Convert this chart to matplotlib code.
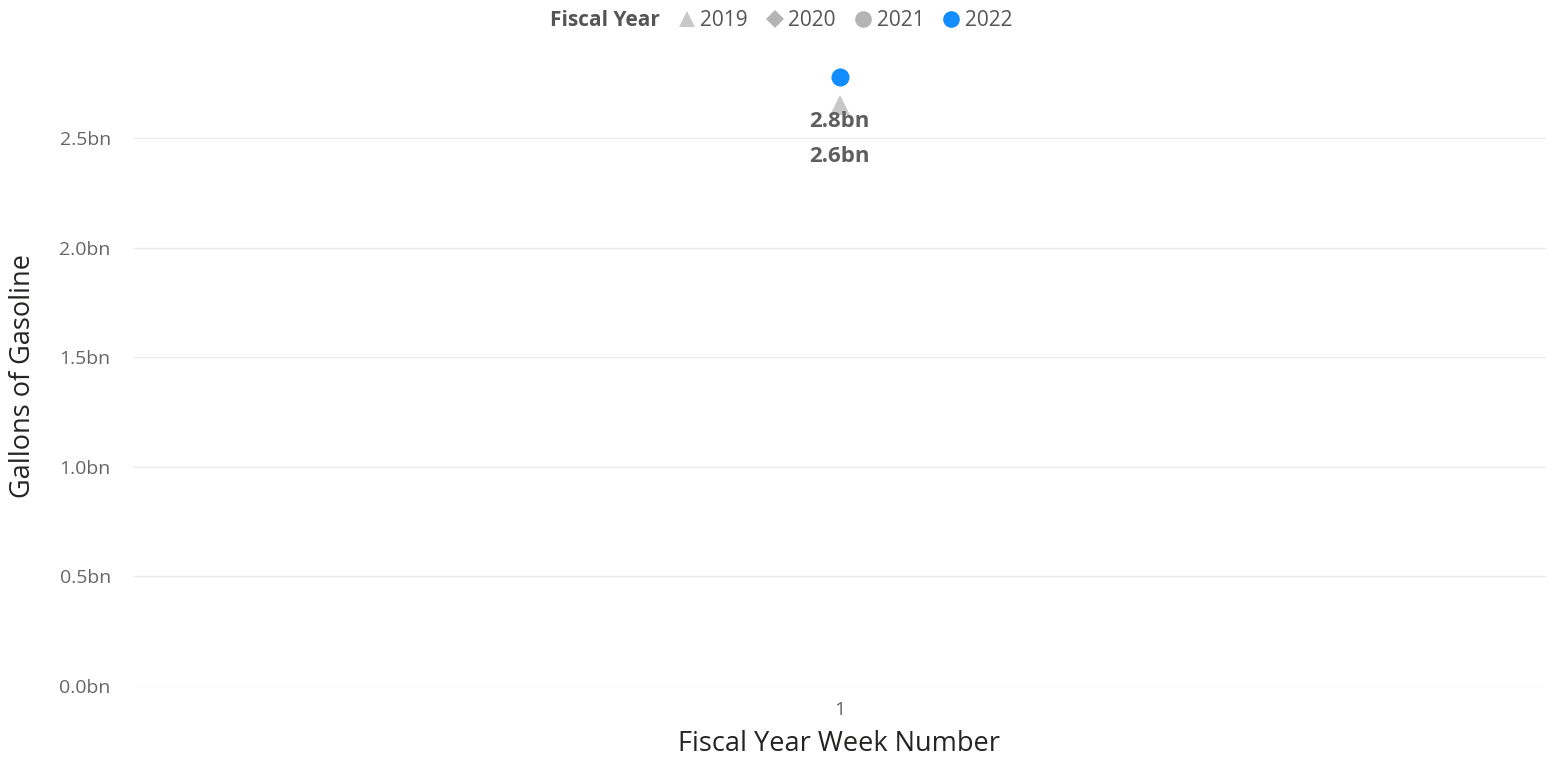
import numpy as np
import matplotlib.pyplot as plt
from matplotlib.lines import Line2D

plt.rcParams['font.family'] = ['Open Sans', 'DejaVu Sans']

# data
weeks = ['1']
years = ['2019', '2020', '2021', '2022']
values = {
    '2019': [2.65],
    '2020': [],
    '2021': [],
    '2022': [2.78],
}
markers = {'2019': '^', '2020': 'D', '2021': 'o', '2022': 'o'}
colors = {'2019': '#c8c8c8', '2020': '#b4b4b4', '2021': '#b4b4b4', '2022': '#118dff'}
msizes = {'2019': 15, '2020': 10, '2021': 13, '2022': 13}
yticks = [0.0, 0.5, 1.0, 1.5, 2.0, 2.5]

fig = plt.figure(figsize=(15.54, 7.8), dpi=100)
ax = fig.add_axes([133/1554, 1-686/780, (1546-133)/1554, (686-65)/780])

x = np.arange(len(weeks))
for y in years:
    v = values[y]
    if len(v) == 0:
        continue
    ax.plot(x[:len(v)], v, linestyle='none', marker=markers[y], color=colors[y],
            markersize=msizes[y], markeredgewidth=0, zorder=3 if y == '2022' else 2)

# data labels (2022 first, then 2019 below it)
lab_y = [2.574, 2.414]
for yr, ly in zip(['2022', '2019'], lab_y):
    ax.text(0, ly, f"{values[yr][0]:.1f}bn", ha='center', va='center',
            fontsize=16, fontweight='bold', color='#5f5f5f', zorder=4)

ax.set_xlim(-0.5, 0.5)
ax.set_ylim(0, 2.833)
ax.set_xticks(x)
ax.set_xticklabels(weeks)
ax.set_yticks(yticks)
ax.set_yticklabels([f"{t:.1f}bn" for t in yticks])
ax.tick_params(axis='both', length=0, labelsize=14, labelcolor='#666666')
ax.tick_params(axis='y', pad=16)
ax.tick_params(axis='x', pad=11)
ax.grid(axis='y', color='#ebebeb', linewidth=1)
ax.set_axisbelow(True)
for s in ax.spines.values():
    s.set_visible(False)

ax.set_xlabel('Fiscal Year Week Number', fontsize=19.5, color='#252423', labelpad=8)
ax.set_ylabel('Gallons of Gasoline', fontsize=19.5, color='#252423', labelpad=16)

# legend
leg_sizes = {'2019': 12, '2020': 9, '2021': 12, '2022': 12}
handles = [Line2D([], [], linestyle='none')]
labels = ['Fiscal Year']
for y in years:
    handles.append(Line2D([], [], linestyle='none', marker=markers[y], color=colors[y],
                          markersize=leg_sizes[y], markeredgewidth=0))
    labels.append(y)
leg = fig.legend(handles, labels, loc='center', bbox_to_anchor=(770/1554, 1-21/780),
                 ncol=5, frameon=False, fontsize=15, handlelength=0.8,
                 handletextpad=0.25, columnspacing=0.9)
for t in leg.get_texts():
    t.set_color('#555555')
leg.get_texts()[0].set_fontweight('bold')

fig.savefig('out.png', dpi=100)
